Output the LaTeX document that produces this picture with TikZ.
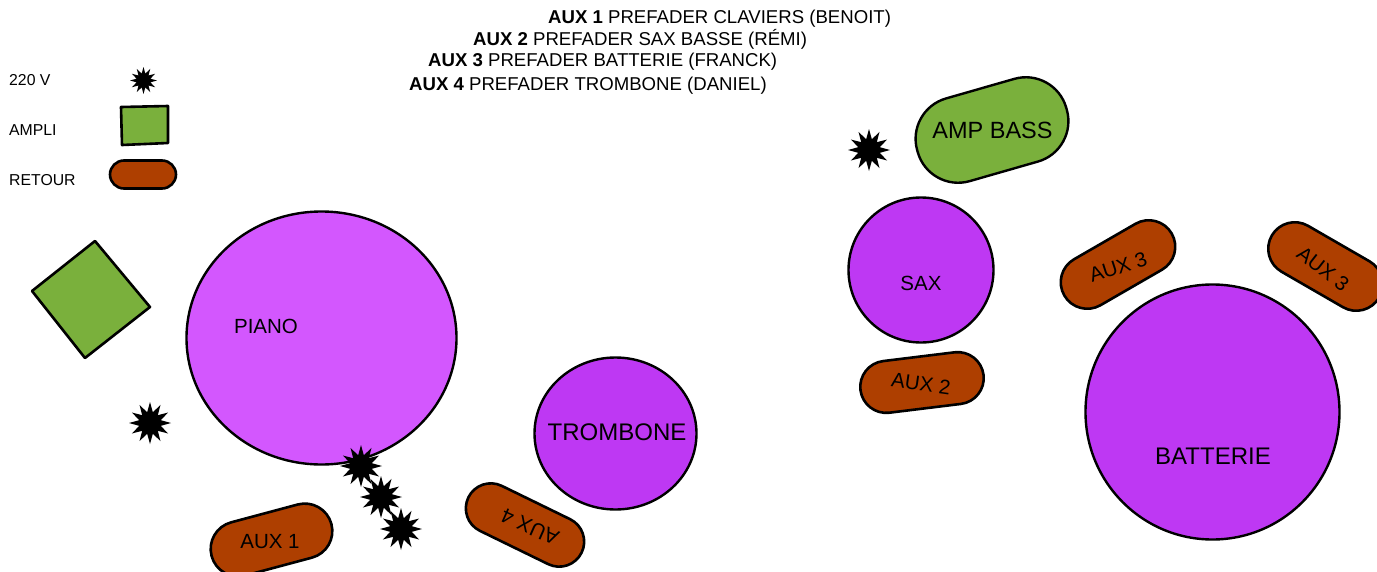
\documentclass[tikz,border=0pt]{standalone}
\usepackage{fontspec}
\setmainfont{Liberation Sans}
\usetikzlibrary{shapes.geometric,shapes.misc}
\definecolor{pianoC}{HTML}{D357FE}
\definecolor{purpleC}{HTML}{BE38F3}
\definecolor{greenC}{HTML}{7AB03C}
\definecolor{brownC}{HTML}{AE3F00}
\tikzset{
  blob/.style={ellipse,draw=black,line width=2.4pt,fill=purpleC,inner sep=0pt},
  pill/.style={rounded rectangle,draw=black,line width=2.6pt,fill=brownC,inner sep=0pt},
  spark/.style={star,star points=12,star point ratio=1.9,fill=black,inner sep=0pt,minimum size=#1},
  spark/.default=42pt,
  lbl/.style={inner sep=0pt,font=\fontsize{#1}{#1}\selectfont},
  lbl/.default=22,
  head/.style={anchor=west,inner sep=0pt,font=\fontsize{18.6}{18.6}\selectfont},
  legend/.style={anchor=west,inner sep=0pt,font=\fontsize{15.8}{15.8}\selectfont},
  amp/.style={draw=black,line width=2.6pt,fill=greenC,line join=round}
}
\begin{document}
\begin{tikzpicture}[x=1pt,y=-1pt]
\useasboundingbox (0,0) rectangle (1377,571);
% headings
\node[head] (h1) at (548,19) {\textbf{AUX 1} PREFADER CLAVIERS (BENOIT)};
\node[head] (h2) at (473,39.5) {\textbf{AUX 2} PREFADER SAX BASSE (RÉMI)};
\node[head] (h3) at (428,62) {\textbf{AUX 3} PREFADER BATTERIE (FRANCK)};
\node[head] (h4) at (409,86) {\textbf{AUX 4} PREFADER TROMBONE (DANIEL)};
% legend
\node[legend] (l1) at (9,80.5) {220 V};
\node[legend] (l2) at (9,130.5) {AMPLI};
\node[legend] (l3) at (9,180.5) {RETOUR};
\node[spark=27pt] (s0) at (143.5,80.5) {};
\draw[amp] (121,107) -- (168,106) -- (168,143) -- (122,145) -- cycle;
\node[pill,minimum width=66pt,minimum height=28pt] (p0) at (143,174.5) {};
% left group
\draw[amp] (95,241) -- (150,307) -- (85,358) -- (32,291) -- cycle;
\node[blob,fill=pianoC,minimum width=270pt,minimum height=253pt] (piano) at (321.5,338) {};
\node[lbl=20.5] (tpiano) at (266,326) {PIANO};
\node[blob,minimum width=162pt,minimum height=152pt] (tromb) at (615.5,433.5) {};
\node[lbl=24] (ttromb) at (617,432) {TROMBONE};
\node[spark] (s1) at (150,423) {};
\node[spark] (s2) at (361,466) {};
\node[spark] (s3) at (381,497) {};
\node[spark] (s4) at (401,529) {};
\node[pill,rotate=15,minimum width=124pt,minimum height=55pt] (a1) at (271.5,540) {};
\node[lbl=20.5] (ta1) at (270,542) {AUX 1};
\node[pill,rotate=-26,minimum width=126pt,minimum height=50pt] (a4) at (525,525) {};
\node[lbl=21,rotate=156] (ta4) at (530,527) {AUX 4};
% right group
\node[rectangle,rounded corners=42pt,draw=black,line width=2.4pt,fill=greenC,inner sep=0pt,rotate=16,minimum width=155pt,minimum height=86pt] (bass) at (992,130) {};
\node[lbl=23.5] (tbass) at (992.5,130) {AMP BASS};
\node[spark] (s5) at (869,150) {};
\node[blob,minimum width=145pt,minimum height=145pt] (sax) at (921,270) {};
\node[lbl=20.5] (tsax) at (921,283) {SAX};
\node[pill,rotate=7,minimum width=124pt,minimum height=52pt] (a2) at (922,382.5) {};
\node[lbl=20.5,rotate=-8] (ta2) at (921,384) {AUX 2};
\node[pill,rotate=30,minimum width=124pt,minimum height=53pt] (a3l) at (1118,264.5) {};
\node[lbl=20.5,rotate=18] (ta3l) at (1118,267) {AUX 3};
\node[pill,rotate=-30,minimum width=124pt,minimum height=53pt] (a3r) at (1325.5,266.5) {};
\node[lbl=20.5,rotate=-38] (ta3r) at (1323,269) {AUX 3};
\node[blob,minimum width=254pt,minimum height=255pt] (batt) at (1212.5,412) {};
\node[lbl=24] (tbatt) at (1213,456) {BATTERIE};
\end{tikzpicture}
\end{document}
